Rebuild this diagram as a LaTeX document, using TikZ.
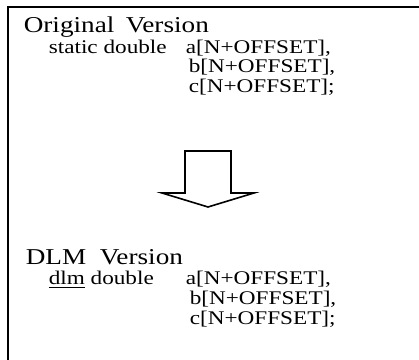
\documentclass[tikz,border=0pt]{standalone}
\usepackage{fontspec}
\setmainfont[FakeStretch=1.2]{Liberation Serif}
\begin{document}
\begin{tikzpicture}[x=0.75pt, y=-0.75pt, line width=1.2pt,
  codeline/.style={anchor=base west, inner sep=0pt, font=\fontsize{14.5}{16}\selectfont},
  titleline/.style={codeline, text depth=0pt, font=\fontsize{17}{19}\selectfont}]
  \useasboundingbox (0,0) rectangle (419,360);
  % frame (top and left edges)
  \draw (419,7) -- (8,7) -- (8,360);
  % original version
  \node[titleline] (origtitle) at (23,33) {Original\hspace{0.5em}Version};
  \node[codeline] (origdecl) at (48,54) {static double};
  \node[codeline] (origa) at (185,54) {a[N+OFFSET],};
  \node[codeline] (origb) at (188,73) {b[N+OFFSET],};
  \node[codeline] (origc) at (188,93) {c[N+OFFSET];};
  % block arrow
  \draw (185,151) -- (231,151) -- (231,193) -- (254,193) -- (208,207)
    -- (162,193) -- (185,193) -- cycle;
  % dlm version
  \node[titleline] (dlmtitle) at (25,265) {DLM\hspace{0.6em}Version};
  \node[codeline] (dlmdecl) at (48,285) {\underline{dlm} double};
  \node[codeline] (dlma) at (185,285) {a[N+OFFSET],};
  \node[codeline] (dlmb) at (189,305) {b[N+OFFSET],};
  \node[codeline] (dlmc) at (189,325) {c[N+OFFSET];};
\end{tikzpicture}
\end{document}
